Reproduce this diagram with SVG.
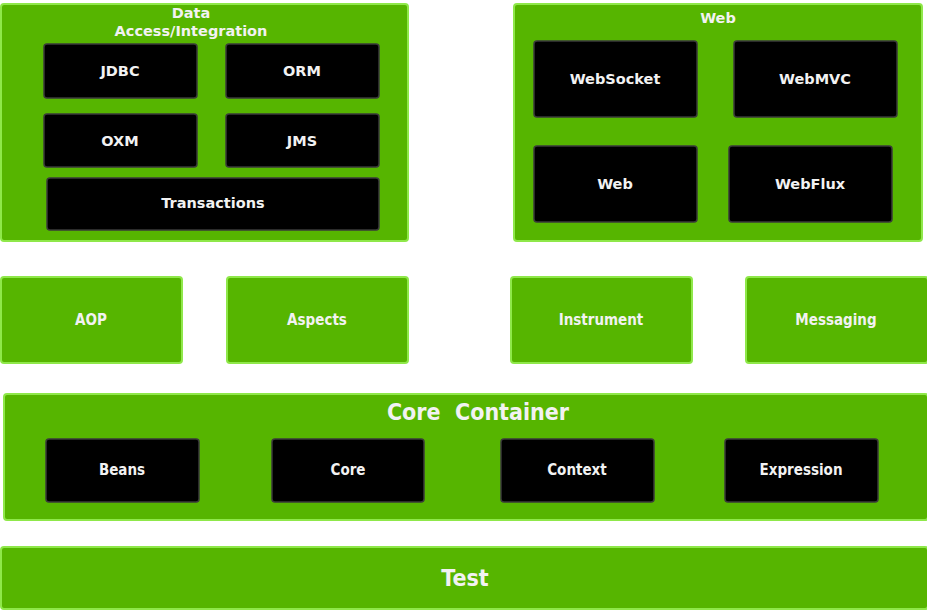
<svg xmlns="http://www.w3.org/2000/svg" width="927" height="611" viewBox="0 0 927 611">
<style>
.g{fill:#56b500;stroke:#8fe84a;stroke-width:2}
.b{fill:#000;stroke:#3a3a3a;stroke-width:1.5}
text{font-family:"DejaVu Sans","Liberation Sans",sans-serif;font-weight:bold;fill:#f2f2f2;text-anchor:middle;dominant-baseline:central}
.s{font-size:14.5px}
.m{font-size:15px;font-family:"DejaVu Sans Condensed","DejaVu Sans",sans-serif}
.l{font-size:23px;font-family:"DejaVu Sans Condensed","DejaVu Sans",sans-serif}
</style>
<rect width="927" height="611" fill="#fff"/>
<g id="data">
<rect class="g" x="1" y="4" width="407" height="237" rx="3"/>
<text class="s" x="191" y="13">Data</text>
<text class="s" x="191" y="31">Access/Integration</text>
</g>
<g id="jdbc"><rect class="b" x="44" y="44" width="153" height="54" rx="3"/><text class="s" x="120" y="71">JDBC</text></g>
<g id="orm"><rect class="b" x="226" y="44" width="153" height="54" rx="3"/><text class="s" x="302" y="71">ORM</text></g>
<g id="oxm"><rect class="b" x="44" y="114" width="153" height="53" rx="3"/><text class="s" x="120" y="141">OXM</text></g>
<g id="jms"><rect class="b" x="226" y="114" width="153" height="53" rx="3"/><text class="s" x="302" y="141">JMS</text></g>
<g id="transactions"><rect class="b" x="47" y="178" width="332" height="52" rx="3"/><text class="s" x="213" y="203">Transactions</text></g>
<g id="web">
<rect class="g" x="514" y="4" width="408" height="237" rx="3"/>
<text class="s" x="718" y="18">Web</text>
</g>
<g id="websocket"><rect class="b" x="534" y="41" width="163" height="76" rx="3"/><text class="s" x="615" y="79">WebSocket</text></g>
<g id="webmvc"><rect class="b" x="734" y="41" width="163" height="76" rx="3"/><text class="s" x="815" y="79">WebMVC</text></g>
<g id="web2"><rect class="b" x="534" y="146" width="163" height="76" rx="3"/><text class="s" x="615" y="184">Web</text></g>
<g id="webflux"><rect class="b" x="729" y="146" width="163" height="76" rx="3"/><text class="s" x="810" y="184">WebFlux</text></g>
<g id="aop"><rect class="g" x="1" y="277" width="181" height="86" rx="3"/><text class="m" x="91" y="320">AOP</text></g>
<g id="aspects"><rect class="g" x="227" y="277" width="181" height="86" rx="3"/><text class="m" x="317" y="320">Aspects</text></g>
<g id="instrument"><rect class="g" x="511" y="277" width="181" height="86" rx="3"/><text class="m" x="601" y="320">Instrument</text></g>
<g id="messaging"><rect class="g" x="746" y="277" width="182" height="86" rx="3"/><text class="m" x="836" y="320">Messaging</text></g>
<g id="corecontainer">
<rect class="g" x="4" y="394" width="924" height="126" rx="3"/>
<text class="l" x="478" y="412" xml:space="preserve">Core  Container</text>
</g>
<g id="beans"><rect class="b" x="46" y="439" width="153" height="63" rx="3"/><text class="m" x="122" y="470">Beans</text></g>
<g id="core"><rect class="b" x="272" y="439" width="152" height="63" rx="3"/><text class="m" x="348" y="470">Core</text></g>
<g id="context"><rect class="b" x="501" y="439" width="153" height="63" rx="3"/><text class="m" x="577" y="470">Context</text></g>
<g id="expression"><rect class="b" x="725" y="439" width="153" height="63" rx="3"/><text class="m" x="801" y="470">Expression</text></g>
<g id="test"><rect class="g" x="1" y="547" width="927" height="62" rx="3"/><text class="l" x="465" y="578">Test</text></g>
<g id="connectors"></g>
</svg>
